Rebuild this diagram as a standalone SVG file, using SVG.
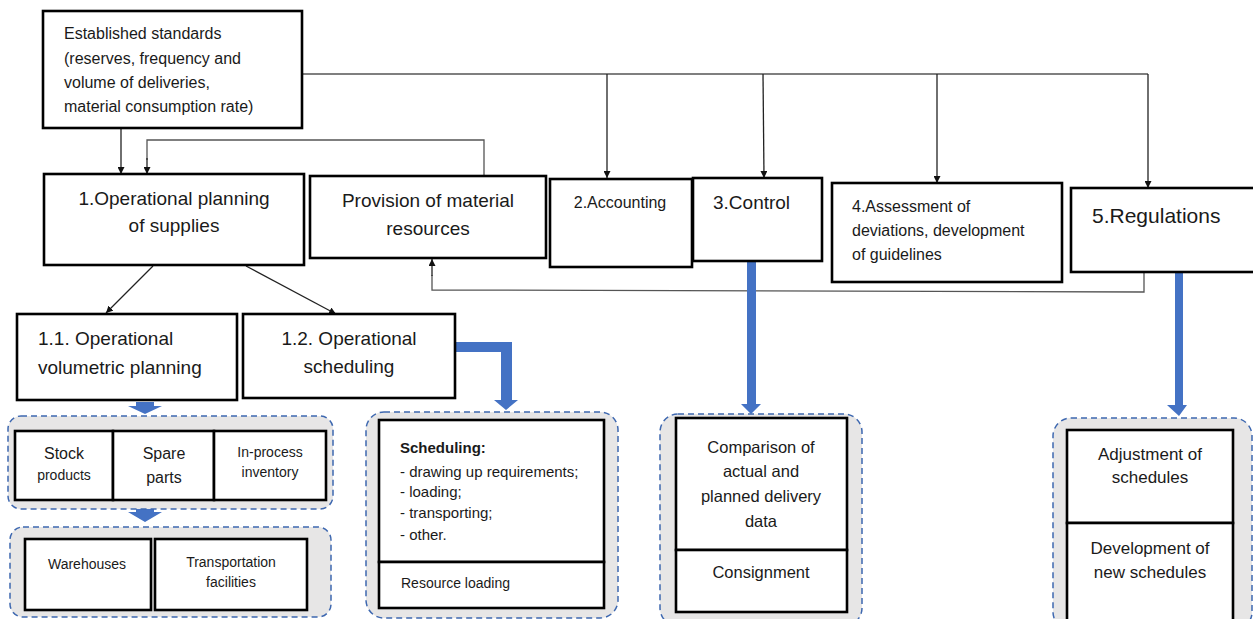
<svg xmlns="http://www.w3.org/2000/svg" width="1253" height="619" viewBox="0 0 1253 619">
<style>
  .box { fill: #ffffff; stroke: #000000; stroke-width: 2.6; }
  .grp { fill: #E7E6E6; stroke: #3E68B0; stroke-width: 1.5; stroke-dasharray: 6 4; }
  .ln { fill: none; stroke: #555555; stroke-width: 1.3; }
  .la { fill: none; stroke: #222222; stroke-width: 1.3; marker-end: url(#ah); }
  .blue { fill: #4472C4; stroke: none; }
  text { font-family: "Liberation Sans", Arial, sans-serif; fill: #1a1a1a; }
  .c { text-anchor: middle; }
  .f19 { font-size: 19px; }
  .f16 { font-size: 16px; }
  .f15 { font-size: 15px; }
  .f14 { font-size: 14px; }
</style>
<defs>
  <marker id="ah" viewBox="0 0 10 10" refX="10" refY="5" markerWidth="7" markerHeight="7" markerUnits="userSpaceOnUse" orient="auto">
    <path d="M0,0 L10,5 L0,10 z" fill="#111111"/>
  </marker>
</defs>

<g id="connectors">
  <polyline class="ln" points="302,74 1148,74"/>
  <line class="la" x1="607" y1="74" x2="607" y2="178"/>
  <line class="la" x1="763" y1="74" x2="764" y2="178"/>
  <line class="la" x1="937" y1="74" x2="937" y2="183"/>
  <line class="la" x1="1148" y1="74" x2="1148" y2="188"/>
  <line class="la" x1="121" y1="128" x2="121" y2="174"/>
  <polyline class="ln" points="484,176 484,140 147,140 147,160"/>
  <line class="la" x1="147" y1="158" x2="147" y2="174"/>
  <polyline class="ln" points="1144,272 1144,292 432,290 432,275"/>
  <line class="la" x1="432" y1="276" x2="432" y2="259"/>
  <line class="la" x1="153" y1="266" x2="106" y2="313"/>
  <line class="la" x1="246" y1="266" x2="336" y2="314"/>
  <path class="blue" d="M455,342 L512,342 L512,400 L518,400 L506,410 L494,400 L501,400 L501,352 L455,352 Z"/>
  <path class="blue" d="M747,261 L756,261 L756,404 L761,404 L751,414 L741,404 L747,404 Z"/>
  <path class="blue" d="M1175,273 L1183,273 L1183,405 L1187,405 L1179,416 L1167,405 L1175,405 Z"/>
  <path class="blue" d="M136,402 L154,402 L154,406 L162,406 L145,414 L128,406 L136,406 Z"/>
  <path class="blue" d="M136,508 L154,508 L154,512 L162,512 L145,522 L128,512 L136,512 Z"/>
</g>

<g id="standards">
  <rect class="box" x="43" y="11" width="259" height="117"/>
  <text class="f16" x="64" y="39">Established standards</text>
  <text class="f16" x="64" y="63.5">(reserves, frequency and</text>
  <text class="f16" x="64" y="88">volume of deliveries,</text>
  <text class="f16" x="64" y="112">material consumption rate)</text>
</g>

<g id="planning">
  <rect class="box" x="44" y="174" width="260" height="91"/>
  <text class="f19 c" x="174" y="205">1.Operational planning</text>
  <text class="f19 c" x="174" y="232">of supplies</text>
</g>

<g id="provision">
  <rect class="box" x="310" y="176" width="236" height="82"/>
  <text class="f19 c" x="428" y="207">Provision of material</text>
  <text class="f19 c" x="428" y="235">resources</text>
</g>

<g id="accounting">
  <rect class="box" x="550" y="179" width="142" height="88"/>
  <text class="f16 c" x="620" y="208">2.Accounting</text>
</g>

<g id="control">
  <rect class="box" x="693" y="178" width="129" height="83"/>
  <text class="f19" x="713" y="209">3.Control</text>
</g>

<g id="assessment">
  <rect class="box" x="832" y="183" width="230" height="99"/>
  <text class="f16" x="852" y="212">4.Assessment of</text>
  <text class="f16" x="852" y="236">deviations, development</text>
  <text class="f16" x="852" y="260">of guidelines</text>
</g>

<g id="regulations">
  <rect class="box" x="1071" y="188" width="184" height="84"/>
  <text x="1092" y="223" style="font-size:21px">5.Regulations</text>
</g>

<g id="volumetric">
  <rect class="box" x="17" y="314" width="220" height="86"/>
  <text class="f19" x="38" y="345">1.1. Operational</text>
  <text class="f19" x="38" y="374">volumetric planning</text>
</g>

<g id="scheduling">
  <rect class="box" x="243" y="314" width="212" height="84"/>
  <text class="f19 c" x="349" y="345">1.2. Operational</text>
  <text class="f19 c" x="349" y="373">scheduling</text>
</g>

<g id="stock-group">
  <rect class="grp" x="8" y="416" width="325" height="93" rx="13"/>
  <rect class="box" x="15" y="431" width="98" height="69"/>
  <rect class="box" x="113" y="431" width="101" height="69"/>
  <rect class="box" x="214" y="431" width="112" height="69"/>
  <text class="f16 c" x="64" y="459">Stock</text>
  <text class="f14 c" x="64" y="480">products</text>
  <text class="f16 c" x="164" y="459">Spare</text>
  <text class="f16 c" x="164" y="483">parts</text>
  <text class="f14 c" x="270" y="457">In-process</text>
  <text class="f14 c" x="270" y="477">inventory</text>
</g>

<g id="facilities-group">
  <rect class="grp" x="10" y="527" width="321" height="90" rx="13"/>
  <rect class="box" x="25" y="539" width="126" height="71"/>
  <rect class="box" x="155" y="539" width="152" height="71"/>
  <text class="f14 c" x="87" y="569">Warehouses</text>
  <text class="f14 c" x="231" y="567">Transportation</text>
  <text class="f14 c" x="231" y="587">facilities</text>
</g>

<g id="scheduling-group">
  <rect class="grp" x="366" y="412" width="252" height="206" rx="18"/>
  <rect class="box" x="379" y="420" width="225" height="142"/>
  <rect class="box" x="379" y="562" width="225" height="46"/>
  <text x="400" y="453" style="font-size:15px;font-weight:bold">Scheduling:</text>
  <text class="f15" x="400" y="477">- drawing up requirements;</text>
  <text class="f15" x="400" y="497">- loading;</text>
  <text class="f15" x="400" y="518">- transporting;</text>
  <text class="f15" x="400" y="540">- other.</text>
  <text class="f14" x="401" y="588">Resource loading</text>
</g>

<g id="control-group">
  <rect class="grp" x="660" y="414" width="202" height="212" rx="18"/>
  <rect class="box" x="676" y="418" width="171" height="132"/>
  <rect class="box" x="676" y="550" width="171" height="62"/>
  <text class="c" x="761" y="453" style="font-size:16.5px">Comparison of</text>
  <text class="c" x="761" y="477" style="font-size:16.5px">actual and</text>
  <text class="c" x="761" y="502" style="font-size:16.5px">planned delivery</text>
  <text class="c" x="761" y="527" style="font-size:16.5px">data</text>
  <text class="c" x="761" y="578" style="font-size:16.5px">Consignment</text>
</g>

<g id="regulations-group">
  <rect class="grp" x="1053" y="418" width="199" height="212" rx="18"/>
  <rect class="box" x="1067" y="430" width="166" height="93"/>
  <rect class="box" x="1067" y="523" width="166" height="100"/>
  <text class="c" x="1150" y="460" style="font-size:17px">Adjustment of</text>
  <text class="c" x="1150" y="483" style="font-size:17px">schedules</text>
  <text class="c" x="1150" y="554" style="font-size:17px">Development of</text>
  <text class="c" x="1150" y="578" style="font-size:17px">new schedules</text>
</g>
</svg>
